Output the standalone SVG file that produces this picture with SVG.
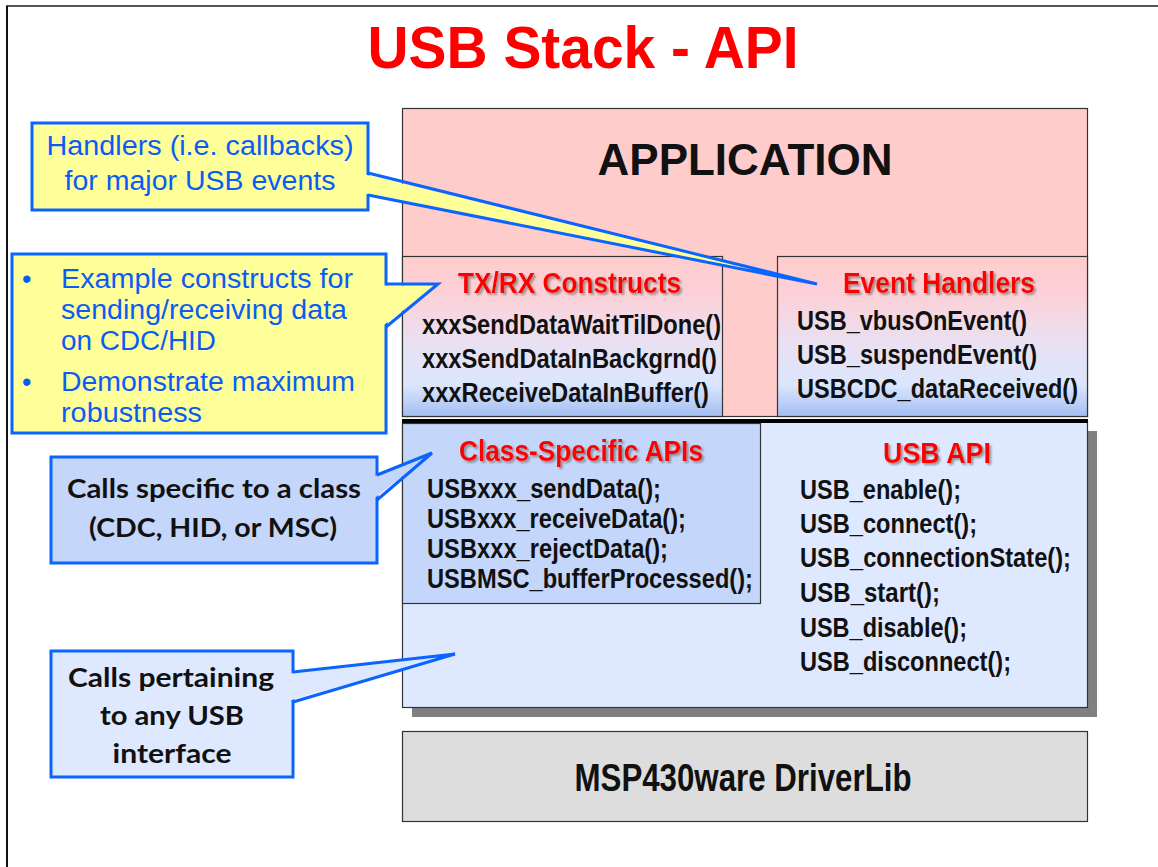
<svg xmlns="http://www.w3.org/2000/svg" width="1158" height="867" viewBox="0 0 1158 867">
<defs>
<linearGradient id="gPinkBlue" x1="0" y1="0" x2="0" y2="1">
<stop offset="0" stop-color="#FFCCCC"/>
<stop offset="0.22" stop-color="#FDD0D6"/>
<stop offset="0.55" stop-color="#E9E1F3"/>
<stop offset="0.8" stop-color="#DCE6FD"/>
<stop offset="1" stop-color="#A3BEF2"/>
</linearGradient>
<filter id="sh" x="-5%" y="-20%" width="115%" height="150%">
<feDropShadow dx="2" dy="2" stdDeviation="0.8" flood-color="#777" flood-opacity="0.75"/>
</filter>
</defs>
<style>
.frame{stroke-width:2;fill:none}
.box{stroke:#333;stroke-width:1.2}
.red{font-family:"Liberation Sans Narrow","Liberation Sans",Arial,sans-serif;font-weight:bold;fill:#FF0000;font-size:29px;text-anchor:middle}
.code{font-family:"Liberation Sans Narrow","Liberation Sans",Arial,sans-serif;font-weight:bold;fill:#111;font-size:27px}
.big{font-family:"Liberation Sans",Arial,sans-serif;font-weight:bold;fill:#111;text-anchor:middle}
.cy{fill:#FFFF99;stroke:#0A64FF;stroke-width:3}
.cb1{fill:#C4D6FA;stroke:#0A64FF;stroke-width:3}
.cb2{fill:#DEE8FF;stroke:#0A64FF;stroke-width:3}
.ytxt{font-family:"Liberation Sans",Arial,sans-serif;fill:#0A5CF5;font-size:27px}
.btxt{font-family:Lato,"Open Sans","Liberation Sans",sans-serif;font-weight:bold;fill:#111;font-size:27px;text-anchor:middle}
</style>
<rect x="0" y="0" width="1158" height="867" fill="#FFFFFF"/>
<g id="frame">
<line x1="6" y1="6" x2="1158" y2="6" stroke="#555" class="frame"/>
<line x1="7" y1="6" x2="7" y2="867" stroke="#111" class="frame"/>
</g>
<text id="title" x="583" y="68" font-family="Liberation Sans, Arial, sans-serif" font-weight="bold" font-size="59" fill="#FF0000" text-anchor="middle" textLength="431" lengthAdjust="spacingAndGlyphs">USB Stack - API</text>

<g id="application">
<rect x="402.5" y="108.5" width="685" height="308" fill="#FFCCCC" class="box"/>
<text x="745" y="175" class="big" font-size="45" textLength="295" lengthAdjust="spacingAndGlyphs">APPLICATION</text>
</g>

<g id="txrx">
<rect x="402.5" y="256.5" width="320" height="160" fill="url(#gPinkBlue)" class="box"/>
<text x="569.5" y="293" class="red" filter="url(#sh)" textLength="223" lengthAdjust="spacingAndGlyphs">TX/RX Constructs</text>
<text x="422" y="334" class="code" textLength="299" lengthAdjust="spacingAndGlyphs">xxxSendDataWaitTilDone()</text>
<text x="422" y="368" class="code" textLength="295" lengthAdjust="spacingAndGlyphs">xxxSendDataInBackgrnd()</text>
<text x="422" y="402" class="code" textLength="287" lengthAdjust="spacingAndGlyphs">xxxReceiveDataInBuffer()</text>
</g>

<g id="events">
<rect x="777.5" y="256.5" width="310" height="160" fill="url(#gPinkBlue)" class="box"/>
<text x="939" y="293" class="red" filter="url(#sh)" textLength="192" lengthAdjust="spacingAndGlyphs">Event Handlers</text>
<text x="797" y="330" class="code" textLength="230" lengthAdjust="spacingAndGlyphs">USB_vbusOnEvent()</text>
<text x="797" y="364" class="code" textLength="240" lengthAdjust="spacingAndGlyphs">USB_suspendEvent()</text>
<text x="797" y="398" class="code" textLength="281" lengthAdjust="spacingAndGlyphs">USBCDC_dataReceived()</text>
</g>

<g id="usbapi">
<rect x="412" y="431" width="685" height="286" fill="#808080"/>
<rect x="402.5" y="421.5" width="685" height="286" fill="#DEE8FF" class="box"/>
<line x1="402" y1="421" x2="1088" y2="421" stroke="#000" stroke-width="4"/>
<text x="937" y="463" class="red" filter="url(#sh)" textLength="108" lengthAdjust="spacingAndGlyphs">USB API</text>
<text x="800" y="499" class="code" textLength="161" lengthAdjust="spacingAndGlyphs">USB_enable();</text>
<text x="800" y="533" class="code" textLength="177" lengthAdjust="spacingAndGlyphs">USB_connect();</text>
<text x="800" y="567" class="code" textLength="271" lengthAdjust="spacingAndGlyphs">USB_connectionState();</text>
<text x="800" y="602" class="code" textLength="140" lengthAdjust="spacingAndGlyphs">USB_start();</text>
<text x="800" y="637" class="code" textLength="167" lengthAdjust="spacingAndGlyphs">USB_disable();</text>
<text x="800" y="671" class="code" textLength="211" lengthAdjust="spacingAndGlyphs">USB_disconnect();</text>
</g>

<g id="classapi">
<rect x="402.5" y="423.5" width="358" height="180" fill="#C4D6FA" class="box"/>
<line x1="402" y1="421" x2="762" y2="421" stroke="#000" stroke-width="4"/>
<text x="581" y="461" class="red" filter="url(#sh)" textLength="244" lengthAdjust="spacingAndGlyphs">Class-Specific APIs</text>
<text x="427" y="498" class="code" textLength="234" lengthAdjust="spacingAndGlyphs">USBxxx_sendData();</text>
<text x="427" y="528" class="code" textLength="259" lengthAdjust="spacingAndGlyphs">USBxxx_receiveData();</text>
<text x="427" y="558" class="code" textLength="241" lengthAdjust="spacingAndGlyphs">USBxxx_rejectData();</text>
<text x="427" y="588" class="code" textLength="326" lengthAdjust="spacingAndGlyphs">USBMSC_bufferProcessed();</text>
</g>

<g id="driverlib">
<rect x="402.5" y="731.5" width="685" height="90" fill="#DDDDDD" class="box"/>
<text x="743" y="791" class="big" font-family="Liberation Sans Narrow, Liberation Sans, Arial, sans-serif" font-size="39" textLength="337" lengthAdjust="spacingAndGlyphs">MSP430ware DriverLib</text>
</g>

<g id="callout-handlers">
<rect x="32" y="123" width="336" height="87" class="cy"/>
<text x="200" y="155" class="ytxt" text-anchor="middle" textLength="307" lengthAdjust="spacingAndGlyphs">Handlers (i.e. callbacks)</text>
<text x="200" y="190" class="ytxt" text-anchor="middle" textLength="271" lengthAdjust="spacingAndGlyphs">for major USB events</text>
</g>

<g id="callout-constructs">
<rect x="12" y="254" width="374" height="179" class="cy"/>
<text x="22" y="288" class="ytxt" font-size="22">•</text>
<text x="61" y="288" class="ytxt" textLength="292" lengthAdjust="spacingAndGlyphs">Example constructs for</text>
<text x="61" y="319" class="ytxt" textLength="286" lengthAdjust="spacingAndGlyphs">sending/receiving data</text>
<text x="61" y="350" class="ytxt" textLength="155" lengthAdjust="spacingAndGlyphs">on CDC/HID</text>
<text x="22" y="391" class="ytxt" font-size="22">•</text>
<text x="61" y="391" class="ytxt" textLength="294" lengthAdjust="spacingAndGlyphs">Demonstrate maximum</text>
<text x="61" y="422" class="ytxt" textLength="141" lengthAdjust="spacingAndGlyphs">robustness</text>
</g>

<g id="callout-class">
<rect x="51" y="457" width="326" height="106" class="cb1"/>
<text x="214" y="498" class="btxt" textLength="294" lengthAdjust="spacingAndGlyphs">Calls specific to a class</text>
<text x="213" y="537" class="btxt" textLength="248" lengthAdjust="spacingAndGlyphs">(CDC, HID, or MSC)</text>
</g>

<g id="callout-usb">
<rect x="51" y="651" width="242" height="126" class="cb2"/>
<text x="171" y="687" class="btxt" textLength="206" lengthAdjust="spacingAndGlyphs">Calls pertaining</text>
<text x="172" y="725" class="btxt" textLength="144" lengthAdjust="spacingAndGlyphs">to any USB</text>
<text x="172" y="763" class="btxt" textLength="119" lengthAdjust="spacingAndGlyphs">interface</text>
</g>

<g id="connectors">
<polygon points="365,174.5 816,284 365,193.5" fill="#FFFF99"/>
<polyline points="368,173 817,284 368,195" fill="none" stroke="#0A64FF" stroke-width="3" stroke-linejoin="miter"/>
<polygon points="383,285.5 436,285.5 383,325.5" fill="#FFFF99"/>
<polyline points="386,284 438,284 386,327" fill="none" stroke="#0A64FF" stroke-width="3"/>
<polygon points="374,476.5 431,454 374,498.5" fill="#C4D6FA"/>
<polyline points="377,475 432,453 377,500" fill="none" stroke="#0A64FF" stroke-width="3"/>
<polygon points="290,673.5 454,654 290,700.5" fill="#DEE8FF"/>
<polyline points="293,672 455,654 293,702" fill="none" stroke="#0A64FF" stroke-width="3"/>
</g>
</svg>
